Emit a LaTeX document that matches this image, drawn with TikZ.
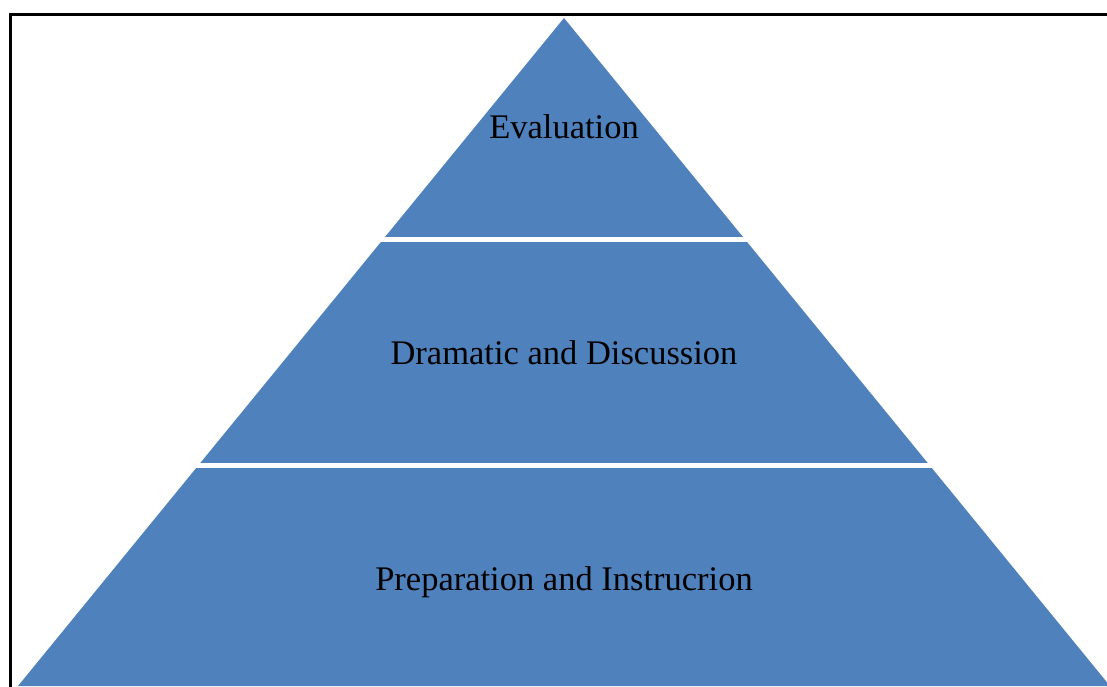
\documentclass[tikz,border=0pt]{standalone}
\usepackage{fontspec}
\setmainfont{Liberation Serif}
\definecolor{pyrblue}{HTML}{4F81BD}
\begin{document}
\begin{tikzpicture}[x=1pt,y=-1pt]
\tikzset{
  level/.style={fill=pyrblue, draw=none},
  gap/.style={fill=white, draw=none},
  lbl/.style={font=\fontsize{34.5}{40}\selectfont, text=black, inner sep=0pt, anchor=base}
}
\useasboundingbox (0,0) rectangle (1107,686);
\clip (0,0) rectangle (1107,686);
\fill[white] (0,0) rectangle (1107,686);
% pyramid
\path[level] (564,18) -- (18,686) -- (1110,686) -- cycle;
% separating strips
\path[gap] (150,237) rectangle (1000,242);
\path[gap] (150,463) rectangle (1000,468);
% frame
\draw[line width=3pt, black] (10.5,14.5) rectangle (1130,710);
% labels
\node[lbl] (evaluation) at (564,138.5) {Evaluation};
\node[lbl] (dramatic) at (564,364) {Dramatic and Discussion};
\node[lbl] (preparation) at (564,590) {Preparation and Instrucrion};
\end{tikzpicture}
\end{document}
